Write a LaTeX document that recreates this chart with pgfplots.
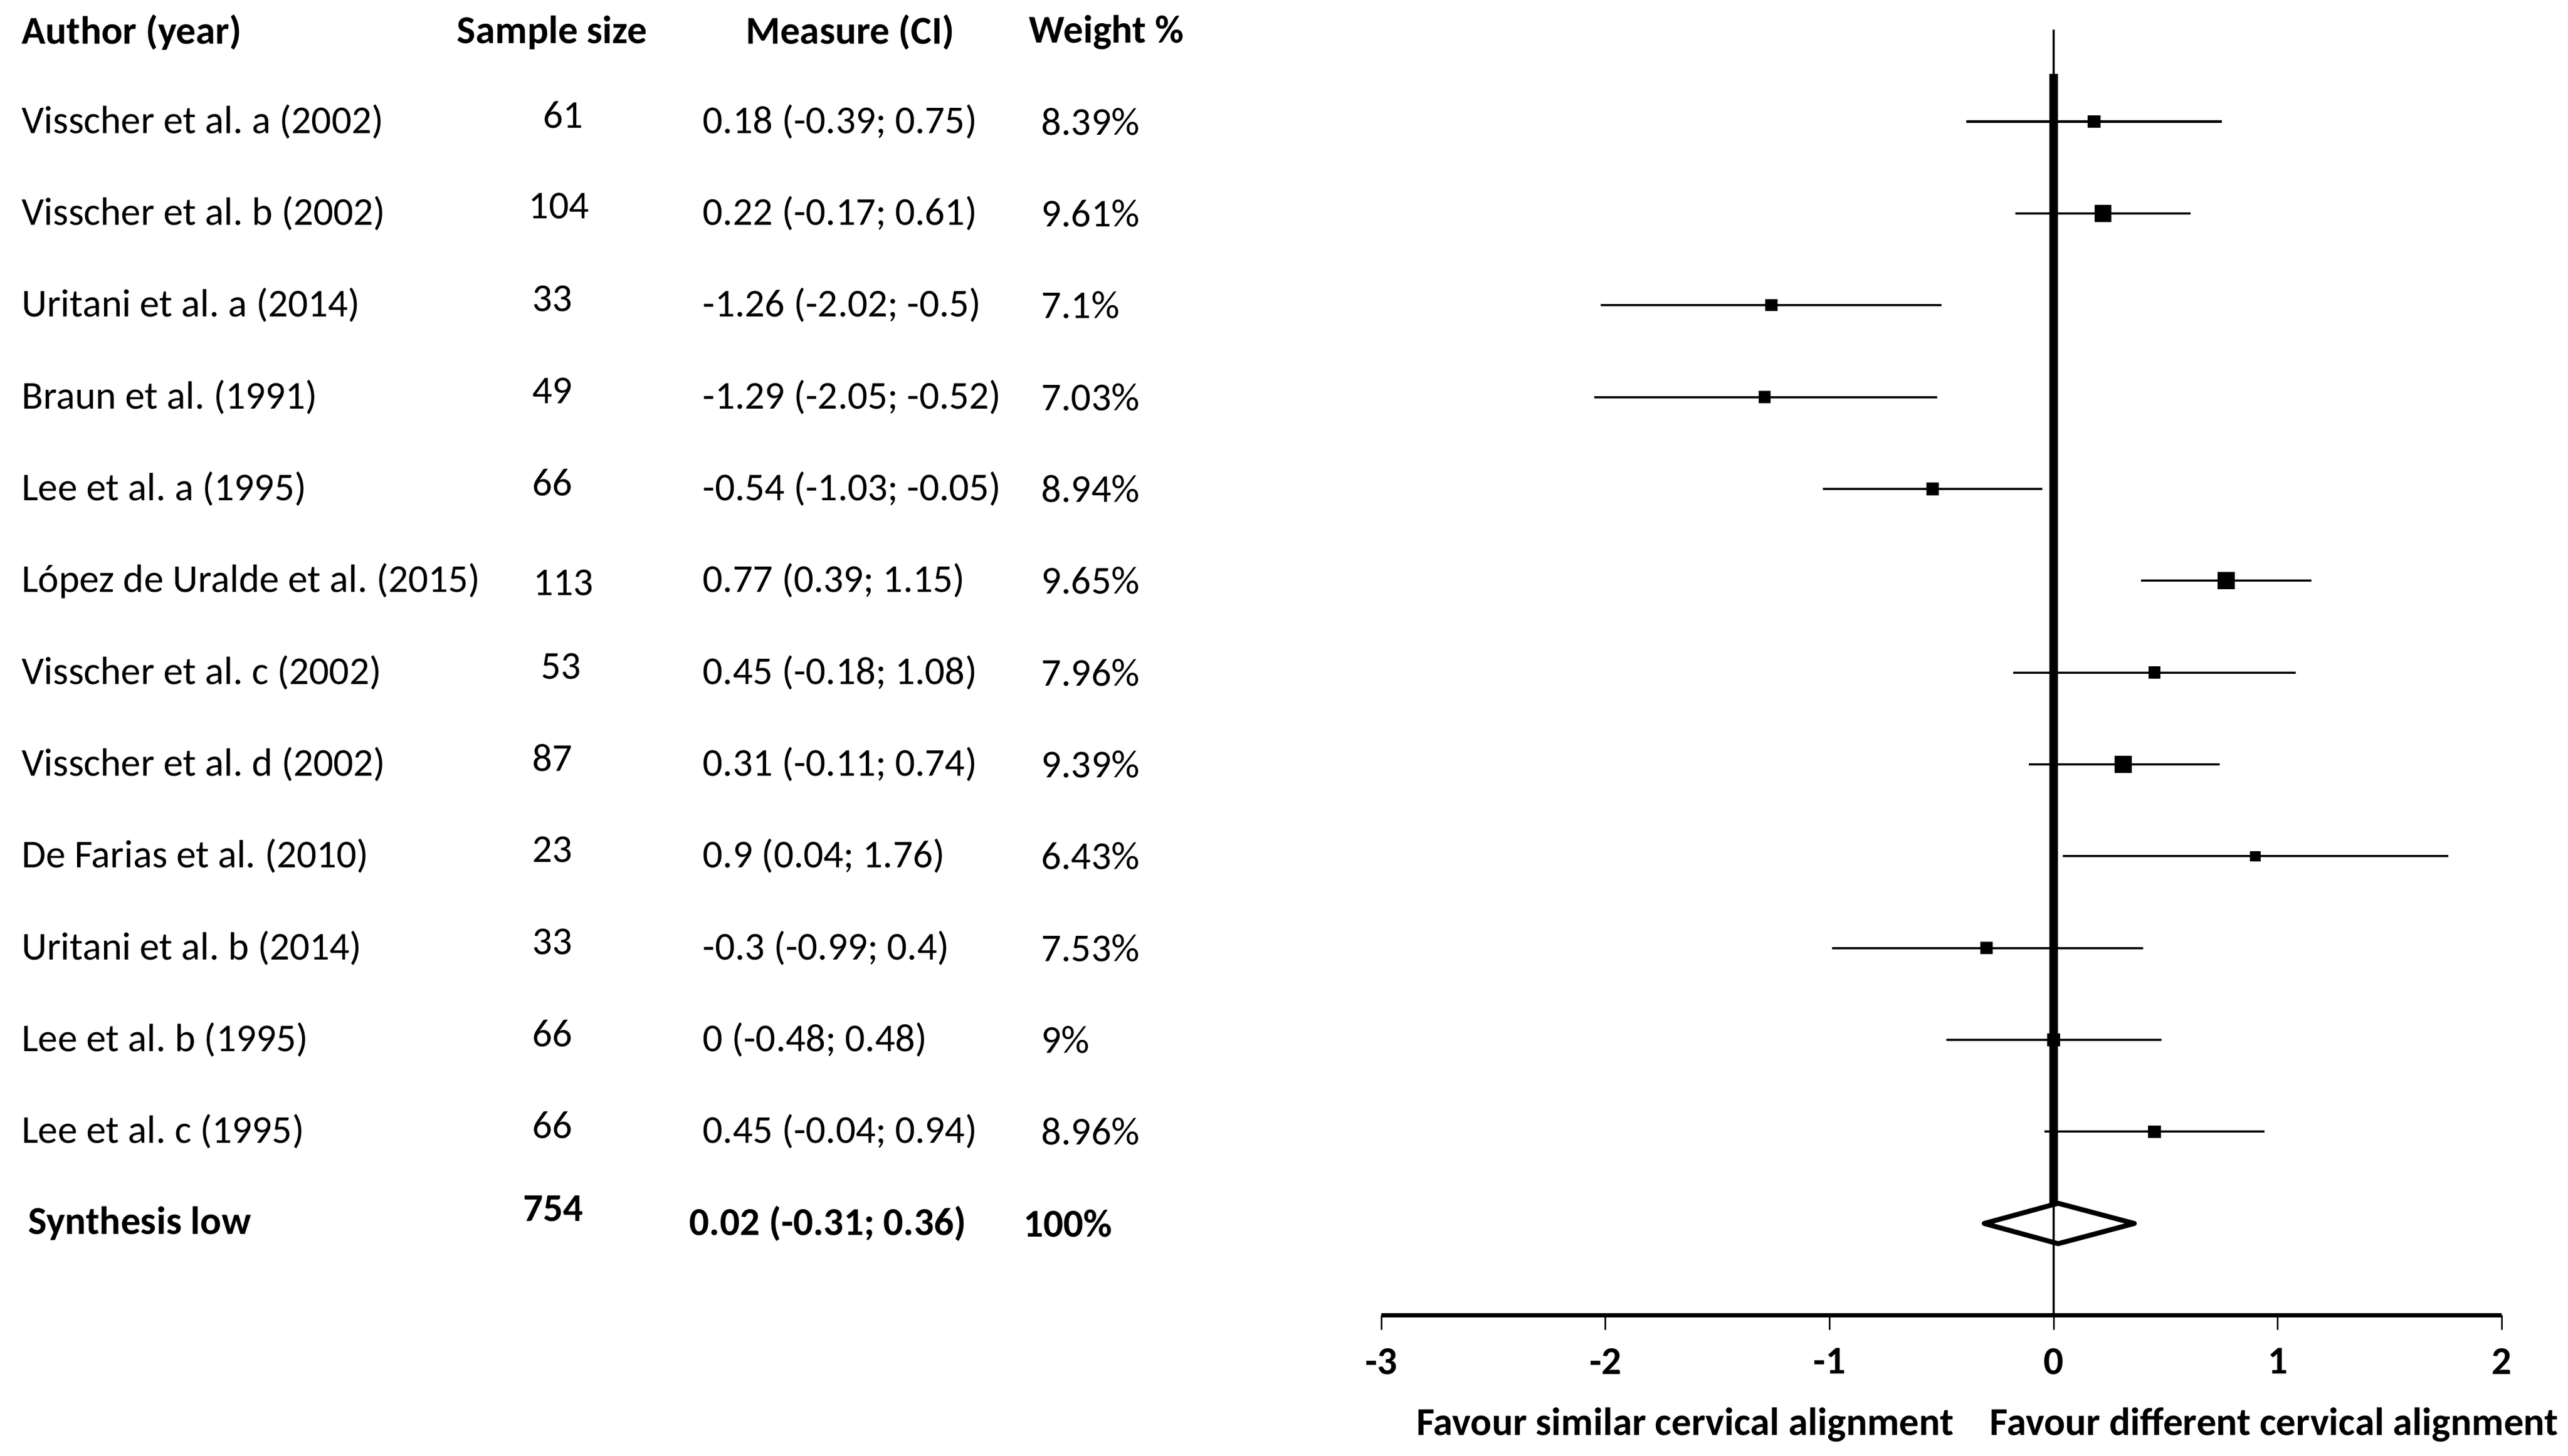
\documentclass[border=0pt]{standalone}
\usepackage{fontspec}
\setmainfont{Carlito}
\usepackage{pgfplots}
\pgfplotsset{compat=1.18}
\usepackage{pgfplotstable}

% row, effect, lower CI, upper CI, half side of the square (pt)
\pgfplotstableread{
row x lo hi ms
-1 0.18 -0.39 0.75 1.72
-2 0.22 -0.17 0.61 2.4
-3 -1.26 -2.02 -0.5 1.65
-4 -1.29 -2.05 -0.52 1.65
-5 -0.54 -1.03 -0.05 1.72
-6 0.77 0.39 1.15 2.4
-7 0.45 -0.18 1.08 1.65
-8 0.31 -0.11 0.74 2.4
-9 0.9 0.04 1.76 1.4
-10 -0.3 -0.99 0.4 1.72
-11 0 -0.48 0.48 1.72
-12 0.45 -0.04 0.94 1.72
}\studies

\newcommand{\tf}{\fontsize{12}{14}\selectfont\frenchspacing}

\begin{document}
\begin{tikzpicture}[font=\tf, txt/.style={inner sep=0pt}]
\begin{axis}[
  x=68.2pt, y=27.95pt,
  xmin=-3, xmax=2, ymin=-14, ymax=0.324,
  axis x line=bottom, axis y line=none,
  clip=false,
  axis line style={-, line width=1.2pt},
  xtick={-3,-2,-1,0,1,2},
  xticklabels={-3,-2,-1,0,1,2},
  tick align=outside,
  major tick length=4.5pt,
  x tick style={line width=0.5pt, black},
  xticklabel style={font=\tf\bfseries, yshift=-2pt},
]
% line of no effect
\addplot[black, line width=0.66pt] coordinates {(0,0) (0,-14)};
\addplot[black, line width=2.6pt] coordinates {(0,-0.48) (0,-12.78)};

% studies
\addplot[scatter, only marks, mark=square*,
  scatter/use mapped color={draw=black, fill=black},
  visualization depends on={\thisrow{ms} \as \msz},
  scatter/@pre marker code/.append style={/tikz/mark size=\msz pt},
  error bars/.cd, x dir=both, x explicit, error mark=none,
  error bar style={line width=0.66pt, black}]
  table[x=x, y=row,
    x error plus expr=\thisrow{hi}-\thisrow{x},
    x error minus expr=\thisrow{x}-\thisrow{lo}] {\studies};

% pooled estimate
\addplot[black, line width=1.5pt, line join=round] coordinates
  {(-0.31,-13) (0.02,-12.78) (0.36,-13) (0.02,-13.22)} -- cycle;

% table headers
\node[txt, anchor=west, font=\tf\bfseries] at (axis cs:-9.07,-0.03) {Author (year)};
\node[txt, font=\tf\bfseries] at (axis cs:-6.70,-0.03) {Sample size};
\node[txt, font=\tf\bfseries] at (axis cs:-5.37,-0.03) {Measure (CI)};
\node[txt, anchor=west, font=\tf\bfseries] at (axis cs:-4.575,-0.03) {Weight \%};

% author column
\node[txt, anchor=west] at (axis cs:-9.07,-1) {Visscher et al. a (2002)};
\node[txt, anchor=west] at (axis cs:-9.07,-2) {Visscher et al. b (2002)};
\node[txt, anchor=west] at (axis cs:-9.07,-3) {Uritani et al. a (2014)};
\node[txt, anchor=west] at (axis cs:-9.07,-4) {Braun et al. (1991)};
\node[txt, anchor=west] at (axis cs:-9.07,-5) {Lee et al. a (1995)};
\node[txt, anchor=west] at (axis cs:-9.07,-6) {López de Uralde et al. (2015)};
\node[txt, anchor=west] at (axis cs:-9.07,-7) {Visscher et al. c (2002)};
\node[txt, anchor=west] at (axis cs:-9.07,-8) {Visscher et al. d (2002)};
\node[txt, anchor=west] at (axis cs:-9.07,-9) {De Farias et al. (2010)};
\node[txt, anchor=west] at (axis cs:-9.07,-10) {Uritani et al. b (2014)};
\node[txt, anchor=west] at (axis cs:-9.07,-11) {Lee et al. b (1995)};
\node[txt, anchor=west] at (axis cs:-9.07,-12) {Lee et al. c (1995)};
\node[txt, anchor=west, font=\tf\bfseries] at (axis cs:-9.04,-13) {Synthesis low};

% sample size column
\node[txt] at (axis cs:-6.65,-0.93) {61};
\node[txt] at (axis cs:-6.67,-1.92) {104};
\node[txt] at (axis cs:-6.70,-2.93) {33};
\node[txt] at (axis cs:-6.70,-3.93) {49};
\node[txt] at (axis cs:-6.70,-4.93) {66};
\node[txt] at (axis cs:-6.65,-6.02) {113};
\node[txt] at (axis cs:-6.66,-6.93) {53};
\node[txt] at (axis cs:-6.70,-7.93) {87};
\node[txt] at (axis cs:-6.70,-8.93) {23};
\node[txt] at (axis cs:-6.70,-9.93) {33};
\node[txt] at (axis cs:-6.70,-10.93) {66};
\node[txt] at (axis cs:-6.70,-11.93) {66};
\node[txt, font=\tf\bfseries] at (axis cs:-6.695,-12.84) {754};

% measure column
\node[txt, anchor=west] at (axis cs:-6.03,-1) {0.18 (-0.39; 0.75)};
\node[txt, anchor=west] at (axis cs:-6.03,-2) {0.22 (-0.17; 0.61)};
\node[txt, anchor=west] at (axis cs:-6.03,-3) {-1.26 (-2.02; -0.5)};
\node[txt, anchor=west] at (axis cs:-6.03,-4) {-1.29 (-2.05; -0.52)};
\node[txt, anchor=west] at (axis cs:-6.03,-5) {-0.54 (-1.03; -0.05)};
\node[txt, anchor=west] at (axis cs:-6.03,-6) {0.77 (0.39; 1.15)};
\node[txt, anchor=west] at (axis cs:-6.03,-7) {0.45 (-0.18; 1.08)};
\node[txt, anchor=west] at (axis cs:-6.03,-8) {0.31 (-0.11; 0.74)};
\node[txt, anchor=west] at (axis cs:-6.03,-9) {0.9 (0.04; 1.76)};
\node[txt, anchor=west] at (axis cs:-6.03,-10) {-0.3 (-0.99; 0.4)};
\node[txt, anchor=west] at (axis cs:-6.03,-11) {0 (-0.48; 0.48)};
\node[txt, anchor=west] at (axis cs:-6.03,-12) {0.45 (-0.04; 0.94)};
\node[txt, anchor=west, font=\tf\bfseries] at (axis cs:-6.09,-13) {0.02 (-0.31; 0.36)};

% weight column
\node[txt, anchor=west] at (axis cs:-4.52,-1) {8.39\%};
\node[txt, anchor=west] at (axis cs:-4.52,-2) {9.61\%};
\node[txt, anchor=west] at (axis cs:-4.52,-3) {7.1\%};
\node[txt, anchor=west] at (axis cs:-4.52,-4) {7.03\%};
\node[txt, anchor=west] at (axis cs:-4.52,-5) {8.94\%};
\node[txt, anchor=west] at (axis cs:-4.52,-6) {9.65\%};
\node[txt, anchor=west] at (axis cs:-4.52,-7) {7.96\%};
\node[txt, anchor=west] at (axis cs:-4.52,-8) {9.39\%};
\node[txt, anchor=west] at (axis cs:-4.52,-9) {6.43\%};
\node[txt, anchor=west] at (axis cs:-4.52,-10) {7.53\%};
\node[txt, anchor=west] at (axis cs:-4.52,-11) {9\%};
\node[txt, anchor=west] at (axis cs:-4.52,-12) {8.96\%};
\node[txt, anchor=west, font=\tf\bfseries] at (axis cs:-4.60,-13) {100\%};

% direction labels
\node[txt, font=\tf\bfseries] at (axis cs:-1.645,-15.19) {Favour similar cervical alignment};
\node[txt, font=\tf\bfseries] at (axis cs:0.983,-15.19) {Favour different cervical alignment};

\coordinate (tl) at (axis cs:-9.164,0.324);
\coordinate (br) at (axis cs:2.295,-15.53);
\end{axis}
\pgfresetboundingbox
\path[use as bounding box] (tl) rectangle (br);
\end{tikzpicture}
\end{document}
